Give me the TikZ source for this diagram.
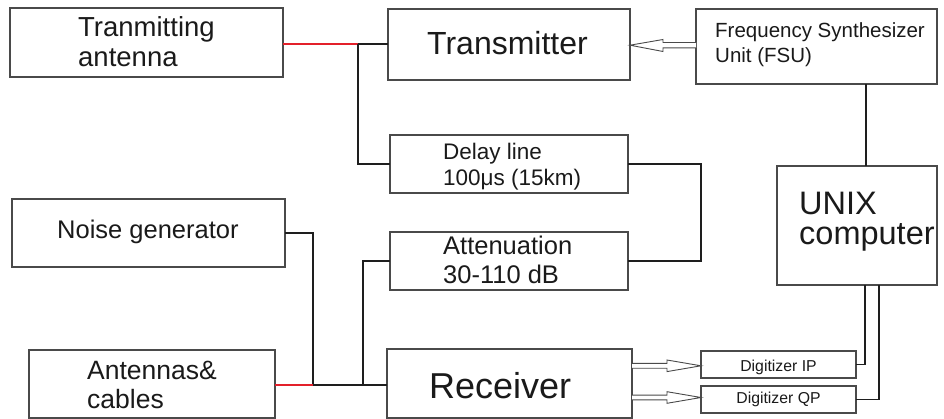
\documentclass[tikz,border=0pt]{standalone}
\usepackage{fontspec}
\setmainfont{Liberation Sans}
\usetikzlibrary{calc}
\newcommand\fsz[1]{\fontsize{#1}{#1}\selectfont}
\definecolor{boxc}{HTML}{4A4A4A}
\definecolor{wirec}{HTML}{1E1E1E}
\definecolor{redw}{HTML}{E3202A}
\definecolor{txtc}{HTML}{1A1A1A}
\begin{document}
\begin{tikzpicture}[x=1pt,y=-1pt,
  box/.style={draw=boxc,line width=1.1pt,rectangle,inner sep=0pt,outer sep=0pt,fill=white},
  lbl/.style={anchor=base west,inner sep=0pt,text=txtc},
  clbl/.style={anchor=base,inner sep=0pt,text=txtc},
  wire/.style={draw=wirec,line width=1.2pt},
  rwire/.style={draw=redw,line width=1.3pt},
  hollow/.style={draw=boxc,line width=0.9pt,fill=white,line join=miter}]
\useasboundingbox (0,0) rectangle (944,419);
% boxes
\node[box,minimum width=273pt,minimum height=69pt] (ta) at (146.5,42.5) {};
\node[box,minimum width=242pt,minimum height=71pt] (tx) at (509,44.5) {};
\node[box,minimum width=241pt,minimum height=75pt] (fsu) at (816.5,46.5) {};
\node[box,minimum width=238pt,minimum height=58pt] (dl) at (509,164) {};
\node[box,minimum width=238pt,minimum height=58pt] (att) at (509,261) {};
\node[box,minimum width=273pt,minimum height=68pt] (ng) at (148.5,233) {};
\node[box,minimum width=160pt,minimum height=119pt] (ux) at (857,225.5) {};
\node[box,minimum width=246pt,minimum height=68pt] (ant) at (152,384) {};
\node[box,minimum width=245pt,minimum height=69pt] (rx) at (509.5,383.5) {};
\node[box,minimum width=155pt,minimum height=27pt] (dip) at (778.5,364.5) {};
\node[box,minimum width=155pt,minimum height=27pt] (dqp) at (778.5,399.5) {};
% texts
\node[lbl,font=\fsz{27.5}] (ta1) at (78,37) {Tranmitting};
\node[lbl,font=\fsz{27.5}] (ta2) at (78,67) {antenna};
\node[lbl,font=\fsz{32}] (tx1) at (427,55) {Transmitter};
\node[lbl,font=\fsz{20.5}] (fs1) at (715,38) {Frequency Synthesizer};
\node[lbl,font=\fsz{20.5}] (fs2) at (715,63) {Unit (FSU)};
\node[lbl,font=\fsz{22.5}] (dl1) at (443,160) {Delay line};
\node[lbl,font=\fsz{22.5}] (dl2) at (443,186) {100μs (15km)};
\node[lbl,font=\fsz{25.5}] (at1) at (443,255) {Attenuation};
\node[lbl,font=\fsz{25.5}] (at2) at (443,284) {30-110 dB};
\node[lbl,font=\fsz{25.5}] (ng1) at (57,239) {Noise generator};
\node[lbl,font=\fsz{26.5}] (an1) at (87,379) {Antennas\&};
\node[lbl,font=\fsz{26.5}] (an2) at (87,408) {cables};
\node[lbl,font=\fsz{36}] (rx1) at (429,398) {Receiver};
\node[lbl,font=\fsz{32.5}] (ux1) at (799,215) {UNIX};
\node[lbl,font=\fsz{32.5}] (ux2) at (799,245) {computer};
\node[clbl,font=\fsz{15.8}] (dip1) at (778.5,371) {Digitizer IP};
\node[clbl,font=\fsz{15.8}] (dqp1) at (778.5,403) {Digitizer QP};
% junctions
\coordinate (j1) at (358,44);
\coordinate (c1) at (701,164);
\coordinate (j2) at (313,385);
\coordinate (j3) at (363,385);
\coordinate (xf) at (866,0);
\coordinate (xi) at (865,0);
\coordinate (xq) at (879,0);
% connectors
\draw[rwire] (ta.east |- j1) -- (j1);
\draw[wire] (j1) -- (tx.west |- j1);
\draw[wire] (j1) |- (dl.west);
\draw[wire] (dl.east) -- (c1) |- (att.east);
\draw[wire] (fsu.south -| xf) -- (ux.north -| xf);
\draw[wire] (ng.east) -| (j2);
\draw[rwire] (ant.east |- j2) -- (j2);
\draw[wire] (j2) -- (rx.west |- j2);
\draw[wire] (j3) |- (att.west);
\draw[wire] (dip.east) -| (ux.south -| xi);
\draw[wire] (dqp.east) -| (ux.south -| xq);
% hollow arrows
\draw[hollow] (fsu.west |- 0,42.5) -- (663,42.5) -- (663,39.5) -- (tx.east |- 0,45.2) -- (663,51.5) -- (663,47.9) -- (fsu.west |- 0,47.9);
\draw[hollow] (rx.east |- 0,363.4) -- (667,363.4) -- (667,360) -- (dip.west |- 0,365.8) -- (667,371.6) -- (667,368.2) -- (rx.east |- 0,368.2);
\draw[hollow] (rx.east |- 0,395.1) -- (667,395.1) -- (667,391.7) -- (dqp.west |- 0,397.5) -- (667,403.3) -- (667,399.9) -- (rx.east |- 0,399.9);
\end{tikzpicture}
\end{document}
